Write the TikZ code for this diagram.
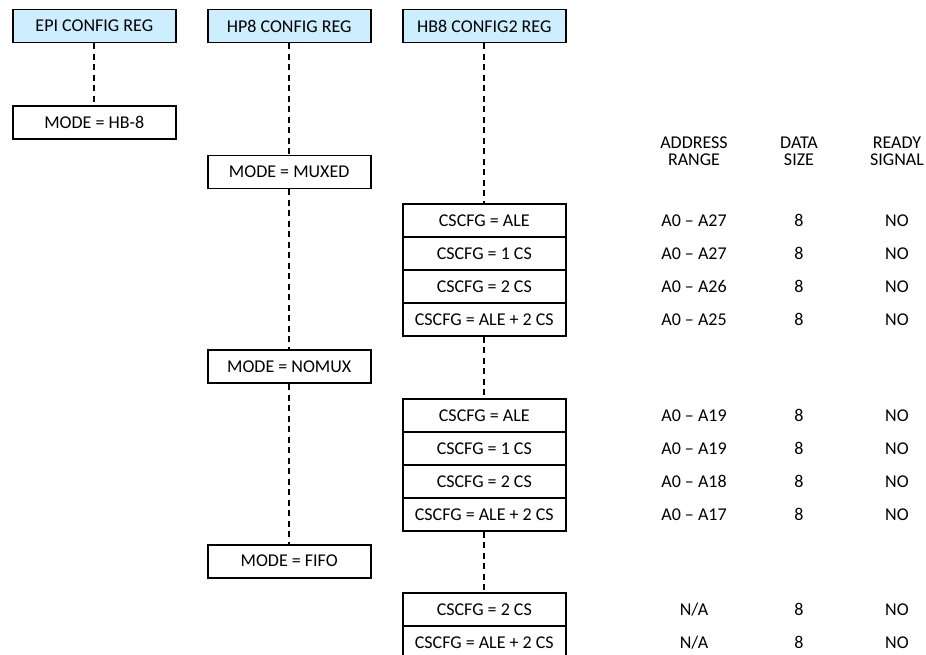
\documentclass[tikz,border=0pt]{standalone}
\usepackage{fontspec}
\setmainfont{Carlito}
\definecolor{hdrblue}{RGB}{204,238,255}
\begin{document}
\begin{tikzpicture}[x=1pt,y=-1pt,
  box/.style={draw=black, line width=1.8pt, rectangle, minimum width=163pt, minimum height=33pt, inner sep=0pt, font=\fontsize{18}{20}\selectfont, fill=white},
  hdr/.style={box, fill=hdrblue},
  conn/.style={line width=1.7pt, dash pattern=on 6pt off 4.5pt},
  val/.style={inner sep=0pt, font=\fontsize{18}{20}\selectfont},
  colhdr/.style={inner sep=0pt, align=center, font=\fontsize{18}{17}\selectfont}]
\useasboundingbox (0,0) rectangle (926,654);
% headers
\node[hdr] (epi) at (94.3,26) {EPI CONFIG REG};
\node[hdr] (hp8) at (289.2,26) {HP8 CONFIG REG};
\node[hdr] (hb8) at (484.3,26) {HB8 CONFIG2 REG};
% modes
\node[box] (mhb) at (94.3,122.5) {MODE = HB-8};
\node[box] (mmux) at (289.2,172) {MODE = MUXED};
\node[box] (mnom) at (289.2,366.7) {MODE = NOMUX};
\node[box] (mfifo) at (289.2,561.2) {MODE = FIFO};
% group 1
\node[box] (a1) at (484.3,220.5) {CSCFG = ALE};
\node[box] (a2) at (484.3,253.5) {CSCFG = 1 CS};
\node[box] (a3) at (484.3,286.5) {CSCFG = 2 CS};
\node[box] (a4) at (484.3,319.5) {CSCFG = ALE + 2 CS};
% group 2
\node[box] (b1) at (484.3,415.5) {CSCFG = ALE};
\node[box] (b2) at (484.3,448.5) {CSCFG = 1 CS};
\node[box] (b3) at (484.3,481.5) {CSCFG = 2 CS};
\node[box] (b4) at (484.3,514.5) {CSCFG = ALE + 2 CS};
% group 3
\node[box] (c1) at (484.3,609.8) {CSCFG = 2 CS};
\node[box] (c2) at (484.3,642.8) {CSCFG = ALE + 2 CS};
% connectors
\draw[conn] (epi.south) -- (mhb.north);
\draw[conn] (hp8.south) -- (mmux.north);
\draw[conn] (mmux.south) -- (mnom.north);
\draw[conn] (mnom.south) -- (mfifo.north);
\draw[conn] (hb8.south) -- (a1.north);
\draw[conn] (a4.south) -- (b1.north);
\draw[conn] (b4.south) -- (c1.north);
% column headers
\node[colhdr] (haddr) at (694,151) {ADDRESS\\RANGE};
\node[colhdr] (hdata) at (799,151) {DATA\\SIZE};
\node[colhdr] (hrdy) at (897,151) {READY\\SIGNAL};
% values
\foreach \r/\y/\ad in {a1/220.5/{A0 -- A27}, a2/253.5/{A0 -- A27}, a3/286.5/{A0 -- A26}, a4/319.5/{A0 -- A25},
                       b1/415.5/{A0 -- A19}, b2/448.5/{A0 -- A19}, b3/481.5/{A0 -- A18}, b4/514.5/{A0 -- A17},
                       c1/609.8/{N/A}, c2/642.8/{N/A}} {
  \node[val] (addr-\r) at (694,\y) {\ad};
  \node[val] (data-\r) at (799,\y) {8};
  \node[val] (rdy-\r) at (897,\y) {NO};
}
\end{tikzpicture}
\end{document}
